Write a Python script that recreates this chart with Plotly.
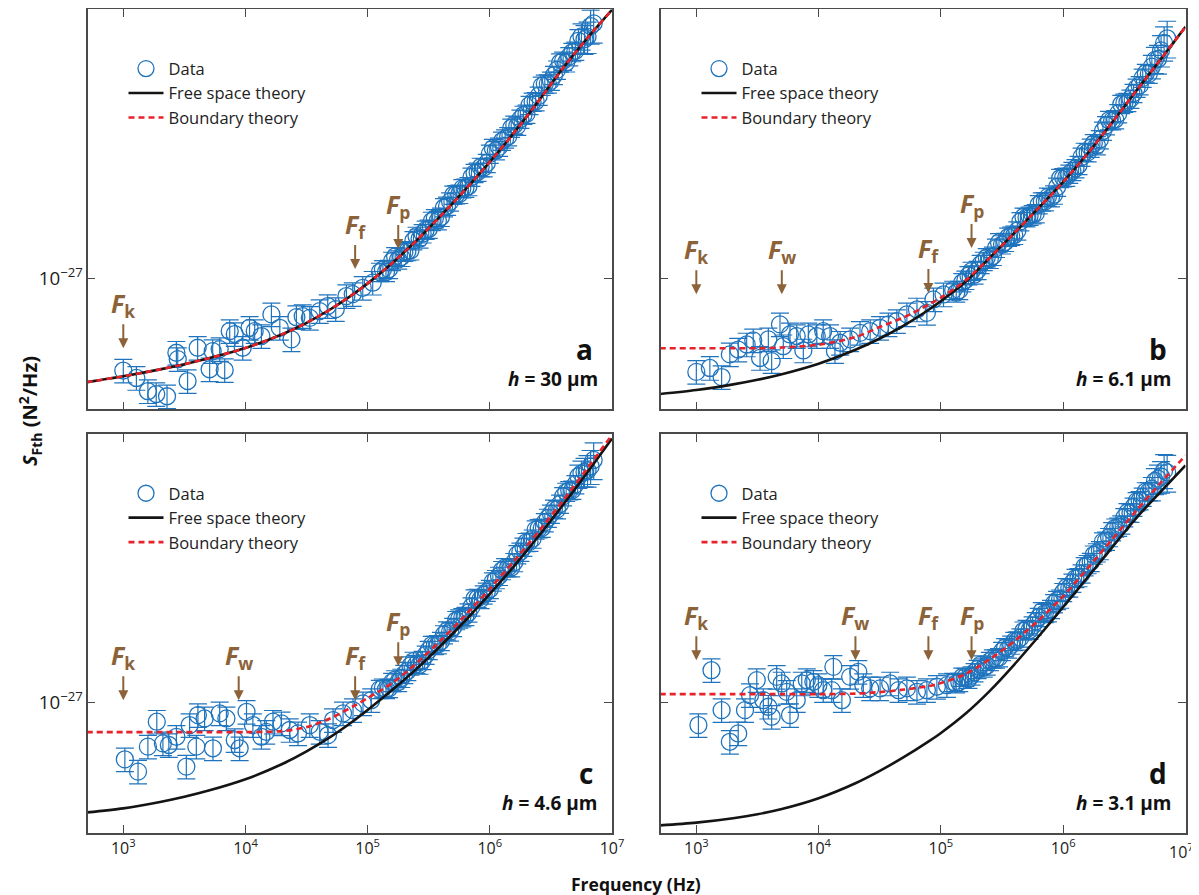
import numpy as np
import plotly.graph_objects as go

UNIT = 1e-27  # all S values below are in units of 1e-27 N^2/Hz

# ---------------- theory curves (shared frequency grid, Hz) ----------------
F_THEORY = [5.0e2, 1.0e3, 2.0e3, 3.162e3, 5.0e3, 1.0e4, 2.0e4, 3.162e4, 5.0e4, 7.943e4,
            1.0e5, 1.585e5, 2.512e5, 3.981e5, 6.31e5, 1.0e6, 1.585e6, 2.512e6, 3.981e6,
            6.31e6, 1.0e7]

FREE_A = [0.4500, 0.4710, 0.4966, 0.5168, 0.5408, 0.5848, 0.6501, 0.7096, 0.7889, 0.8946,
          0.9601, 1.1211, 1.3335, 1.6130, 1.9724, 2.4378, 3.0549, 3.8905, 5.0119, 6.3096, 7.8228]
BOUND_A = [0.4500, 0.4710, 0.4966, 0.5168, 0.5408, 0.5848, 0.6501, 0.7096, 0.7889, 0.8946,
           0.9601, 1.1211, 1.3335, 1.6130, 1.9724, 2.4378, 3.0549, 3.8905, 5.0119, 6.3096, 7.8228]
FREE_B = [0.4110, 0.4239, 0.4426, 0.4585, 0.4786, 0.5188, 0.5772, 0.6291, 0.6960, 0.7845,
          0.8380, 0.9698, 1.1695, 1.4125, 1.7140, 2.0893, 2.5983, 3.2961, 4.2144, 5.3703, 6.8645]
BOUND_B = [0.584, 0.584, 0.584, 0.584, 0.587, 0.600, 0.636, 0.687, 0.741, 0.816,
           0.861, 0.981, 1.1695, 1.4125, 1.7140, 2.0893, 2.5983, 3.2961, 4.2144, 5.3703, 6.8645]
FREE_C = [0.4281, 0.4419, 0.4642, 0.4831, 0.5066, 0.5527, 0.6213, 0.6846, 0.7667, 0.8750,
          0.9404, 1.0965, 1.2912, 1.5453, 1.8724, 2.2961, 2.8510, 3.5838, 4.5604, 5.8578, 7.5819]
BOUND_C = [0.794, 0.794, 0.794, 0.794, 0.794, 0.794, 0.800, 0.825, 0.884, 0.977,
           1.031, 1.157, 1.349, 1.609, 1.950, 2.390, 2.963, 3.715, 4.713, 6.049, 7.795]
FREE_D = [0.3877, 0.3960, 0.4097, 0.4222, 0.4395, 0.4775, 0.5358, 0.5893, 0.6561, 0.7396,
          0.7889, 0.9142, 1.0905, 1.3345, 1.6586, 2.0766, 2.6102, 3.2853, 4.1271, 5.0505, 6.1660]
BOUND_D = [1.063, 1.063, 1.063, 1.063, 1.063, 1.063, 1.067, 1.080, 1.101, 1.131,
           1.157, 1.240, 1.391, 1.597, 1.877, 2.256, 2.797, 3.494, 4.365, 5.412, 6.659]

# ---------------- measured data ----------------
# high-frequency bins shared by all four measurements (Hz)
F_HI = [1.259e5, 1.334e5, 1.413e5, 1.496e5, 1.585e5, 1.679e5, 1.778e5, 1.884e5, 1.995e5,
        2.113e5, 2.239e5, 2.371e5, 2.512e5, 2.661e5, 2.818e5, 2.985e5, 3.162e5, 3.350e5,
        3.548e5, 3.758e5, 3.981e5, 4.217e5, 4.467e5, 4.732e5, 5.012e5, 5.309e5, 5.623e5,
        5.957e5, 6.310e5, 6.683e5, 7.079e5, 7.499e5, 7.943e5, 8.414e5, 8.913e5, 9.441e5,
        1.0e6, 1.059e6, 1.122e6, 1.189e6, 1.259e6, 1.334e6, 1.413e6, 1.496e6, 1.585e6,
        1.679e6, 1.778e6, 1.884e6, 1.995e6, 2.113e6, 2.239e6, 2.371e6, 2.512e6, 2.661e6,
        2.818e6, 2.985e6, 3.162e6, 3.350e6, 3.548e6, 3.758e6, 3.981e6, 4.217e6, 4.467e6,
        4.732e6, 5.012e6, 5.309e6, 5.623e6, 5.957e6, 6.310e6, 6.683e6, 7.079e6]
ERR_LOW_PCT = 9.0
ERR_HI_PCT = [7.0] * 65 + [9.0, 10.0, 11.0, 12.0, 13.0, 14.0]

F_A_LOW = [1.0e3, 1.28e3, 1.59e3, 1.86e3, 2.28e3, 2.72e3, 2.79e3, 3.36e3, 4.06e3, 5.09e3,
           5.39e3, 6.15e3, 6.76e3, 7.43e3, 8.17e3, 9.49e3, 1.08e4, 1.19e4, 1.35e4, 1.63e4,
           1.91e4, 2.38e4, 2.61e4, 2.94e4, 3.36e4, 4.05e4, 4.71e4, 5.48e4, 6.70e4, 7.55e4,
           9.12e4, 1.10e5]
S_A_LOW = [0.492, 0.465, 0.420, 0.411, 0.404, 0.564, 0.537, 0.454, 0.586, 0.497, 0.571,
           0.580, 0.494, 0.666, 0.651, 0.586, 0.683, 0.666, 0.641, 0.757, 0.683, 0.625,
           0.741, 0.747, 0.737, 0.776, 0.807, 0.788, 0.871, 0.884, 0.928, 0.965]
S_A_HI = [1.047, 1.068, 1.047, 1.071, 1.139, 1.180, 1.152, 1.175, 1.221, 1.228, 1.235,
          1.334, 1.380, 1.352, 1.407, 1.446, 1.457, 1.548, 1.579, 1.556, 1.597, 1.718,
          1.738, 1.797, 1.891, 1.898, 1.905, 1.989, 1.995, 2.021, 2.171, 2.236, 2.256,
          2.342, 2.335, 2.414, 2.591, 2.705, 2.661, 2.734, 2.862, 2.913, 2.963, 3.162,
          3.236, 3.213, 3.388, 3.490, 3.522, 3.766, 3.861, 3.873, 4.043, 4.365, 4.433,
          4.440, 4.536, 4.736, 4.936, 5.214, 5.288, 5.220, 5.474, 5.648, 5.710, 6.168,
          6.383, 6.244, 6.359, 6.906, 7.050]

F_B_LOW = [1.0e3, 1.29e3, 1.61e3, 1.88e3, 2.20e3, 2.58e3, 2.92e3, 3.32e3, 3.88e3, 4.13e3,
           4.83e3, 5.14e3, 5.83e3, 6.62e3, 7.50e3, 8.24e3, 9.66e3, 1.09e4, 1.24e4, 1.36e4,
           1.50e4, 1.81e4, 2.18e4, 2.64e4, 3.18e4, 3.72e4, 4.36e4, 5.27e4, 6.37e4, 7.68e4,
           8.69e4, 1.05e5]
S_B_LOW = [0.487, 0.502, 0.468, 0.557, 0.578, 0.601, 0.620, 0.542, 0.625, 0.529, 0.701,
           0.593, 0.649, 0.641, 0.574, 0.649, 0.641, 0.666, 0.641, 0.571, 0.609, 0.625,
           0.657, 0.666, 0.683, 0.701, 0.719, 0.757, 0.786, 0.766, 0.849, 0.882]
S_B_HI = [0.912, 0.894, 0.912, 0.967, 0.985, 1.020, 1.055, 1.027, 1.063, 1.112, 1.139,
          1.171, 1.157, 1.184, 1.259, 1.314, 1.293, 1.318, 1.370, 1.381, 1.391, 1.438,
          1.543, 1.598, 1.591, 1.610, 1.628, 1.642, 1.758, 1.796, 1.799, 1.864, 1.855,
          1.894, 2.011, 2.150, 2.163, 2.171, 2.222, 2.270, 2.317, 2.376, 2.532, 2.628,
          2.621, 2.714, 2.807, 2.765, 2.895, 3.090, 3.224, 3.353, 3.350, 3.373, 3.534,
          3.793, 3.831, 3.852, 3.951, 4.125, 4.299, 4.381, 4.642, 4.808, 4.786, 5.058,
          5.329, 5.365, 5.732, 6.069, 6.286]

F_C_LOW = [1.03e3, 1.32e3, 1.59e3, 1.88e3, 2.11e3, 2.36e3, 2.72e3, 3.28e3, 3.49e3, 3.96e3,
           4.08e3, 4.63e3, 5.42e3, 6.15e3, 6.98e3, 8.17e3, 8.96e3, 1.02e4, 1.15e4, 1.35e4,
           1.48e4, 1.68e4, 1.97e4, 2.30e4, 2.69e4, 3.36e4, 4.05e4, 4.74e4, 5.21e4, 6.29e4,
           7.59e4, 9.16e4, 1.07e5]
S_C_LOW = [0.644, 0.586, 0.710, 0.860, 0.728, 0.719, 0.766, 0.609, 0.838, 0.710, 0.905,
           0.882, 0.701, 0.917, 0.882, 0.747, 0.701, 0.928, 0.838, 0.766, 0.796, 0.860,
           0.849, 0.807, 0.786, 0.838, 0.796, 0.776, 0.871, 0.917, 0.940, 0.990, 1.015]
S_C_HI = [1.105, 1.116, 1.105, 1.113, 1.166, 1.189, 1.166, 1.203, 1.240, 1.269, 1.323,
          1.371, 1.339, 1.332, 1.380, 1.436, 1.491, 1.550, 1.549, 1.557, 1.597, 1.681,
          1.731, 1.719, 1.778, 1.875, 1.898, 1.917, 1.935, 1.988, 2.081, 2.216, 2.222,
          2.207, 2.282, 2.332, 2.381, 2.525, 2.570, 2.635, 2.754, 2.814, 2.818, 2.816,
          2.929, 3.113, 3.174, 3.295, 3.415, 3.427, 3.508, 3.765, 3.802, 3.814, 3.981,
          4.116, 4.250, 4.411, 4.399, 4.584, 4.861, 5.025, 5.090, 5.105, 5.329, 5.675,
          5.799, 5.867, 5.934, 6.122, 6.433]

F_D_LOW = [1.04e3, 1.33e3, 1.61e3, 1.88e3, 2.20e3, 2.50e3, 2.75e3, 3.12e3, 3.53e3, 3.88e3,
           4.13e3, 4.54e3, 4.99e3, 5.48e3, 5.83e3, 6.62e3, 7.28e3, 8.00e3, 9.06e3, 9.95e3,
           1.09e4, 1.28e4, 1.32e4, 1.55e4, 1.81e4, 2.11e4, 2.32e4, 2.64e4, 3.18e4, 3.85e4,
           4.50e4, 5.27e4, 6.37e4, 7.68e4, 9.27e4, 1.12e5]
S_D_LOW = [0.838, 1.278, 0.940, 0.737, 0.786, 0.940, 1.055, 1.184, 1.015, 0.965, 0.893,
           1.214, 1.154, 1.082, 0.905, 1.015, 1.154, 1.184, 1.169, 1.139, 1.096, 1.096,
           1.311, 1.015, 1.214, 1.262, 1.139, 1.111, 1.111, 1.154, 1.096, 1.111, 1.082,
           1.096, 1.125, 1.139]
S_D_HI = [1.166, 1.154, 1.166, 1.213, 1.212, 1.195, 1.226, 1.257, 1.288, 1.334, 1.303,
          1.323, 1.370, 1.397, 1.396, 1.409, 1.479, 1.523, 1.508, 1.553, 1.597, 1.603,
          1.641, 1.730, 1.751, 1.740, 1.799, 1.860, 1.920, 2.009, 1.980, 1.991, 2.042,
          2.136, 2.188, 2.212, 2.326, 2.414, 2.408, 2.500, 2.591, 2.610, 2.682, 2.839,
          2.884, 2.933, 3.102, 3.157, 3.211, 3.432, 3.454, 3.549, 3.715, 3.818, 3.846,
          3.912, 4.137, 4.294, 4.282, 4.480, 4.677, 4.712, 4.842, 5.045, 5.051, 5.157,
          5.474, 5.570, 5.666, 5.927, 5.843]

# characteristic frequencies: (subscript, frequency Hz, arrow-tip level in 1e-27 N^2/Hz)
MARKS_A = [("k", 1.0e3, 0.584), ("f", 7.9e4, 1.071), ("p", 1.78e5, 1.249)]
MARKS_B = [("k", 1.0e3, 0.884), ("w", 5.0e3, 0.884), ("f", 7.9e4, 0.891), ("p", 1.78e5, 1.259)]
MARKS_C = [("k", 1.0e3, 1.015), ("w", 8.8e3, 1.015), ("f", 7.9e4, 1.015), ("p", 1.78e5, 1.318)]
MARKS_D = [("k", 1.0e3, 1.380), ("w", 2.0e4, 1.380), ("f", 7.9e4, 1.380), ("p", 1.78e5, 1.380)]

PANEL_LETTERS = ["a", "b", "c", "d"]
HEIGHTS = ["30", "6.1", "4.6", "3.1"]

# x tick positions (Hz) and their labels
X_TICKS = [1e3, 1e4, 1e5, 1e6, 1e7]
X_TICK_TEXT = ["10<sup>3</sup>", "10<sup>4</sup>", "10<sup>5</sup>", "10<sup>6</sup>", "10<sup>7</sup>"]

# ---------------- styling / layout ----------------
# The page body has an 8 px margin, so the figure is drawn 8 px smaller and
# every page-pixel position is shifted by that margin.
PAGE_W, PAGE_H, BODY = 1199, 895, 8
W, H = PAGE_W - BODY, PAGE_H - BODY


def fx(px):
    return (px - BODY) / W


def fy(py):
    return 1 - (py - BODY) / H


FONT = "Open Sans, Lato, sans-serif"
BLUE = "#1f74bd"
BLACK = "#141414"
RED = "#e8222a"
BROWN = "#8c6239"
AXC = "#4a4a4a"

# panel boxes in page pixels: left, top, right, bottom
BOXES = [(87.5, 9.3, 612, 409.3), (660.5, 9.3, 1185.5, 409.3),
         (87.5, 434, 612, 833), (660.5, 434, 1185.5, 833)]

panels = [
    dict(fl=F_A_LOW, sl=S_A_LOW, sh=S_A_HI, fr=FREE_A, bd=BOUND_A, mk=MARKS_A),
    dict(fl=F_B_LOW, sl=S_B_LOW, sh=S_B_HI, fr=FREE_B, bd=BOUND_B, mk=MARKS_B),
    dict(fl=F_C_LOW, sl=S_C_LOW, sh=S_C_HI, fr=FREE_C, bd=BOUND_C, mk=MARKS_C),
    dict(fl=F_D_LOW, sl=S_D_LOW, sh=S_D_HI, fr=FREE_D, bd=BOUND_D, mk=MARKS_D),
]

fig = go.Figure()
annotations = []
layout = {}

for i, p in enumerate(panels):
    suffix = "" if i == 0 else str(i + 1)
    xa, ya = "x" + suffix, "y" + suffix
    lg = "legend" + suffix
    L, T, R, B = BOXES[i]

    f_all = list(p["fl"]) + list(F_HI)
    s_all = np.array(list(p["sl"]) + list(p["sh"])) * UNIT
    pct = np.array([ERR_LOW_PCT] * len(p["fl"]) + ERR_HI_PCT)
    err = s_all * pct / 100.0

    fig.add_trace(go.Scatter(
        x=f_all, y=s_all, mode="markers", name="Data", xaxis=xa, yaxis=ya, legend=lg,
        marker=dict(symbol="circle-open", size=17, color=BLUE, line=dict(width=1.3, color=BLUE)),
        error_y=dict(type="data", array=err, color=BLUE, thickness=1.2, width=9),
    ))
    fig.add_trace(go.Scatter(
        x=F_THEORY, y=np.array(p["fr"]) * UNIT, mode="lines", name="Free space theory",
        xaxis=xa, yaxis=ya, legend=lg, line_shape="spline",
        line=dict(color=BLACK, width=2.6, smoothing=0.8),
    ))
    fig.add_trace(go.Scatter(
        x=F_THEORY, y=np.array(p["bd"]) * UNIT, mode="lines", name="Boundary theory",
        xaxis=xa, yaxis=ya, legend=lg, line_shape="spline",
        line=dict(color=RED, width=2.6, dash="6px,4px", smoothing=0.8),
    ))

    is_bottom = i >= 2
    is_left = i % 2 == 0
    common = dict(
        type="log", ticks="inside", ticklen=8, tickwidth=1.3, tickcolor=AXC,
        showline=True, linecolor=AXC, linewidth=1.5, mirror="ticks", showgrid=False,
        zeroline=False, automargin=False, ticklabeloverflow="allow",
    )
    # the last label of the lower-right panel sits at the page edge: drawn separately below
    tick_text = list(X_TICK_TEXT)
    if i == 3:
        tick_text[-1] = ""
    layout["xaxis" + suffix] = dict(common, domain=[fx(L), fx(R)], range=[2.707, 7.0],
                                    tickmode="array", tickvals=X_TICKS, ticktext=tick_text,
                                    tickfont=dict(family=FONT, size=16, color="#222"),
                                    anchor=ya, showticklabels=is_bottom)
    layout["yaxis" + suffix] = dict(common, domain=[fy(B), fy(T)], range=[-27.437, -26.105],
                                    dtick=1, exponentformat="power",
                                    tickfont=dict(family=FONT, size=15, color="#222"),
                                    anchor=xa, showticklabels=is_left)

    # legend inside the panel, top-left
    layout[lg] = dict(x=fx(L + 36), y=fy(T + 42), xanchor="left", yanchor="top",
                      bgcolor="rgba(0,0,0,0)", borderwidth=0,
                      font=dict(family=FONT, size=16.5, color="#222"),
                      tracegroupgap=0, itemwidth=35)

    # characteristic frequency arrows
    for sub, fq, lev in p["mk"]:
        annotations.append(dict(
            x=np.log10(fq), y=np.log10(lev * UNIT), xref=xa, yref=ya,
            text="<b><i>F</i><sub>" + sub + "</sub></b>", showarrow=True,
            ax=0, ay=-44, axref="pixel", ayref="pixel",
            arrowhead=2, arrowsize=1.0, arrowwidth=2.0, arrowcolor=BROWN,
            font=dict(family=FONT, size=25, color=BROWN),
        ))

    # panel letter and gap height
    annotations.append(dict(
        x=fx(R - 17), y=fy(B - 60), xref="paper", yref="paper",
        xanchor="right", yanchor="middle", showarrow=False,
        text="<b>" + PANEL_LETTERS[i] + "</b>",
        font=dict(family=FONT, size=28, color="#111"),
    ))
    annotations.append(dict(
        x=fx(R - 12), y=fy(B - 30), xref="paper", yref="paper",
        xanchor="right", yanchor="middle", showarrow=False,
        text="<b><i>h</i> = " + HEIGHTS[i] + " μm</b>",
        font=dict(family=FONT, size=19, color="#111"),
    ))

# last x tick label of panel d, kept inside the page
annotations.append(dict(
    x=fx(1196), y=fy(851), xref="paper", yref="paper", showarrow=False,
    xanchor="right", yanchor="middle", text=X_TICK_TEXT[-1],
    font=dict(family=FONT, size=16, color="#222"),
))

# axis titles
annotations.append(dict(
    x=fx(30), y=fy(411), xref="paper", yref="paper", showarrow=False, textangle=-90,
    xanchor="center", yanchor="middle",
    text="<b><i>S</i><sub>Fth</sub> (N<sup>2</sup>/Hz)</b>",
    font=dict(family=FONT, size=20, color="#111"),
))
annotations.append(dict(
    x=fx(636), y=fy(884), xref="paper", yref="paper", showarrow=False,
    xanchor="center", yanchor="middle", text="<b>Frequency (Hz)</b>",
    font=dict(family=FONT, size=17.5, color="#111"),
))

fig.update_layout(
    width=W, height=H, margin=dict(l=0, r=0, t=0, b=0, autoexpand=False),
    paper_bgcolor="white", plot_bgcolor="white",
    font=dict(family=FONT, color="#222"),
    annotations=annotations, showlegend=True,
    **layout,
)

fig.write_html("out.html")
